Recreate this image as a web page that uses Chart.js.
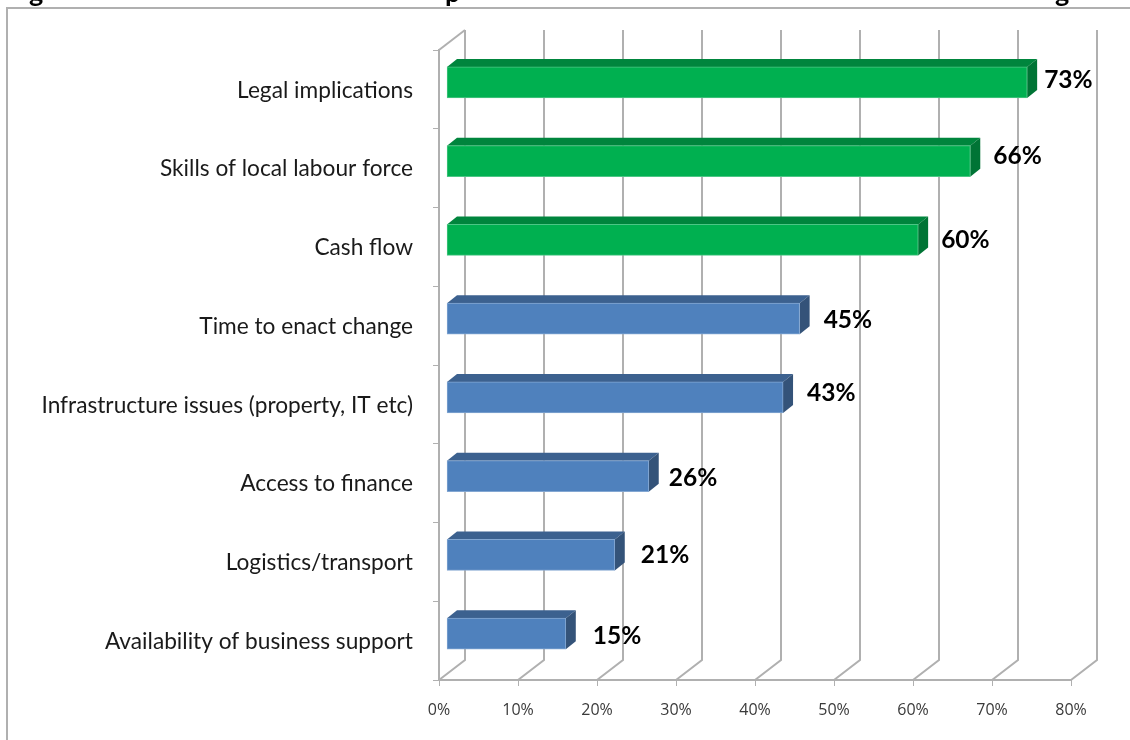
<!DOCTYPE html>
<html lang="en">
<head>
  <meta charset="UTF-8">
  <title>Barriers chart</title>
  <script src="https://cdn.jsdelivr.net/npm/chart.js"></script>
  <style>
    html, body { margin: 0; padding: 0; background: #fff; }
    #wrap { width: 1130px; height: 740px; }
  </style>
</head>
<body>
  <div id="wrap"><canvas id="myChart" width="1130" height="740"></canvas></div>
  <script>
    const categories = [
      'Legal implications',
      'Skills of local labour force',
      'Cash flow',
      'Time to enact change',
      'Infrastructure issues (property, IT etc)',
      'Access to finance',
      'Logistics/transport',
      'Availability of business support'
    ];
    // bar lengths
    const barValues = [73.5, 66.3, 59.7, 44.7, 42.6, 25.6, 21.3, 15.1];
    const valueLabels = ['73%', '66%', '60%', '45%', '43%', '26%', '21%', '15%'];
    const barGroups = ['green', 'green', 'green', 'blue', 'blue', 'blue', 'blue', 'blue'];
    const xTicks = [0, 10, 20, 30, 40, 50, 60, 70, 80];

    const faces = {
      green: { front: '#00b050', edge: '#4cc685', top: '#00853d', side: '#007435' },
      blue: { front: '#4f81bd', edge: '#83a7d2', top: '#3c618f', side: '#345379' }
    };
    const gridColor = '#b0b0b0';
    const wall = { dx: 26, dy: -20 };     // back wall offset
    const barDepth = { dx: 10, dy: -8 };  // bar 3d depth
    const barShift = { dx: 7.5, dy: -7 }; // bars sit between front and back
    // the value labels were placed by hand in the original
    const labelNudge = [[7, -2], [13, -5], [13, 0], [14, 1], [14, -4], [10, 2], [16, 0], [17, 2]];

    const wallsPlugin = {
      id: 'walls',
      beforeDatasetsDraw(chart) {
        const { ctx, scales: { x }, chartArea: area } = chart;
        ctx.save();
        ctx.strokeStyle = gridColor;
        ctx.lineWidth = 2;
        // outer frame of the pasted picture
        ctx.beginPath();
        ctx.moveTo(7, 740);
        ctx.lineTo(7, 8);
        ctx.lineTo(1130, 8);
        ctx.stroke();
        xTicks.forEach(t => {
          const px = x.getPixelForValue(t);
          ctx.beginPath();
          ctx.moveTo(px, area.bottom);
          ctx.lineTo(px + wall.dx, area.bottom + wall.dy);
          ctx.lineTo(px + wall.dx, area.top + wall.dy);
          ctx.stroke();
        });
        // top of the side wall
        ctx.beginPath();
        ctx.moveTo(area.left, area.top);
        ctx.lineTo(area.left + wall.dx, area.top + wall.dy);
        ctx.stroke();
        ctx.restore();
      },
      beforeDatasetDraw(chart) {
        const { ctx } = chart;
        ctx.save();
        ctx.translate(barShift.dx, barShift.dy);
        chart.getDatasetMeta(0).data.forEach((bar, i) => {
          const f = faces[barGroups[i]];
          const top = bar.y - bar.height / 2;
          const bottom = bar.y + bar.height / 2;
          ctx.fillStyle = f.top;
          ctx.beginPath();
          ctx.moveTo(bar.base, top);
          ctx.lineTo(bar.base + barDepth.dx, top + barDepth.dy);
          ctx.lineTo(bar.x + barDepth.dx, top + barDepth.dy);
          ctx.lineTo(bar.x, top);
          ctx.fill();
          ctx.fillStyle = f.side;
          ctx.beginPath();
          ctx.moveTo(bar.x, top);
          ctx.lineTo(bar.x + barDepth.dx, top + barDepth.dy);
          ctx.lineTo(bar.x + barDepth.dx, bottom + barDepth.dy);
          ctx.lineTo(bar.x, bottom);
          ctx.fill();
        });
      },
      afterDatasetDraw(chart) {
        const { ctx } = chart;
        ctx.restore();
        ctx.save();
        ctx.fillStyle = '#000';
        ctx.font = 'bold 24.5px Lato';
        ctx.textAlign = 'left';
        ctx.textBaseline = 'middle';
        chart.getDatasetMeta(0).data.forEach((bar, i) => {
          const n = labelNudge[i];
          ctx.fillText(valueLabels[i],
            bar.x + barShift.dx + barDepth.dx + n[0],
            bar.y + barShift.dy + n[1]);
        });
        // title of the page is cut off, only its descenders are left
        ctx.font = 'bold 27px Lato';
        ctx.fillText('g', 29, -7);
        ctx.fillText('p', 445, -7);
        ctx.fillText('g', 1055, -7);
        ctx.restore();
      }
    };

    new Chart(document.getElementById('myChart'), {
      type: 'bar',
      data: {
        labels: categories,
        datasets: [{
          data: barValues,
          backgroundColor: barGroups.map(g => faces[g].front),
          borderColor: barGroups.map(g => faces[g].edge),
          borderWidth: 1,
          borderSkipped: false,
          barThickness: 31
        }]
      },
      plugins: [wallsPlugin],
      options: {
        indexAxis: 'y',
        responsive: false,
        animation: false,
        layout: { padding: { top: 50, right: 59, bottom: 0, left: 0 } },
        plugins: { legend: { display: false }, tooltip: { enabled: false } },
        scales: {
          x: {
            min: 0,
            max: 80,
            afterFit: s => { s.height = 60; },
            afterBuildTicks: s => { s.ticks = xTicks.map(v => ({ value: v })); },
            border: { color: gridColor, width: 2 },
            grid: { drawOnChartArea: false, color: gridColor, tickLength: 6 },
            ticks: {
              callback: v => v + '%',
              color: '#3a3a3a',
              padding: 15,
              maxRotation: 0,
              font: { family: 'Open Sans', size: 16 }
            }
          },
          y: {
            afterFit: s => { s.width = 439; },
            border: { color: gridColor, width: 2 },
            grid: { drawOnChartArea: false, color: gridColor, tickLength: 6, offset: true },
            ticks: {
              color: '#1a1a1a',
              padding: 20,
              labelOffset: 1,
              autoSkip: false,
              font: { family: 'Lato', size: 22.7 }
            }
          }
        }
      }
    });
  </script>
</body>
</html>
